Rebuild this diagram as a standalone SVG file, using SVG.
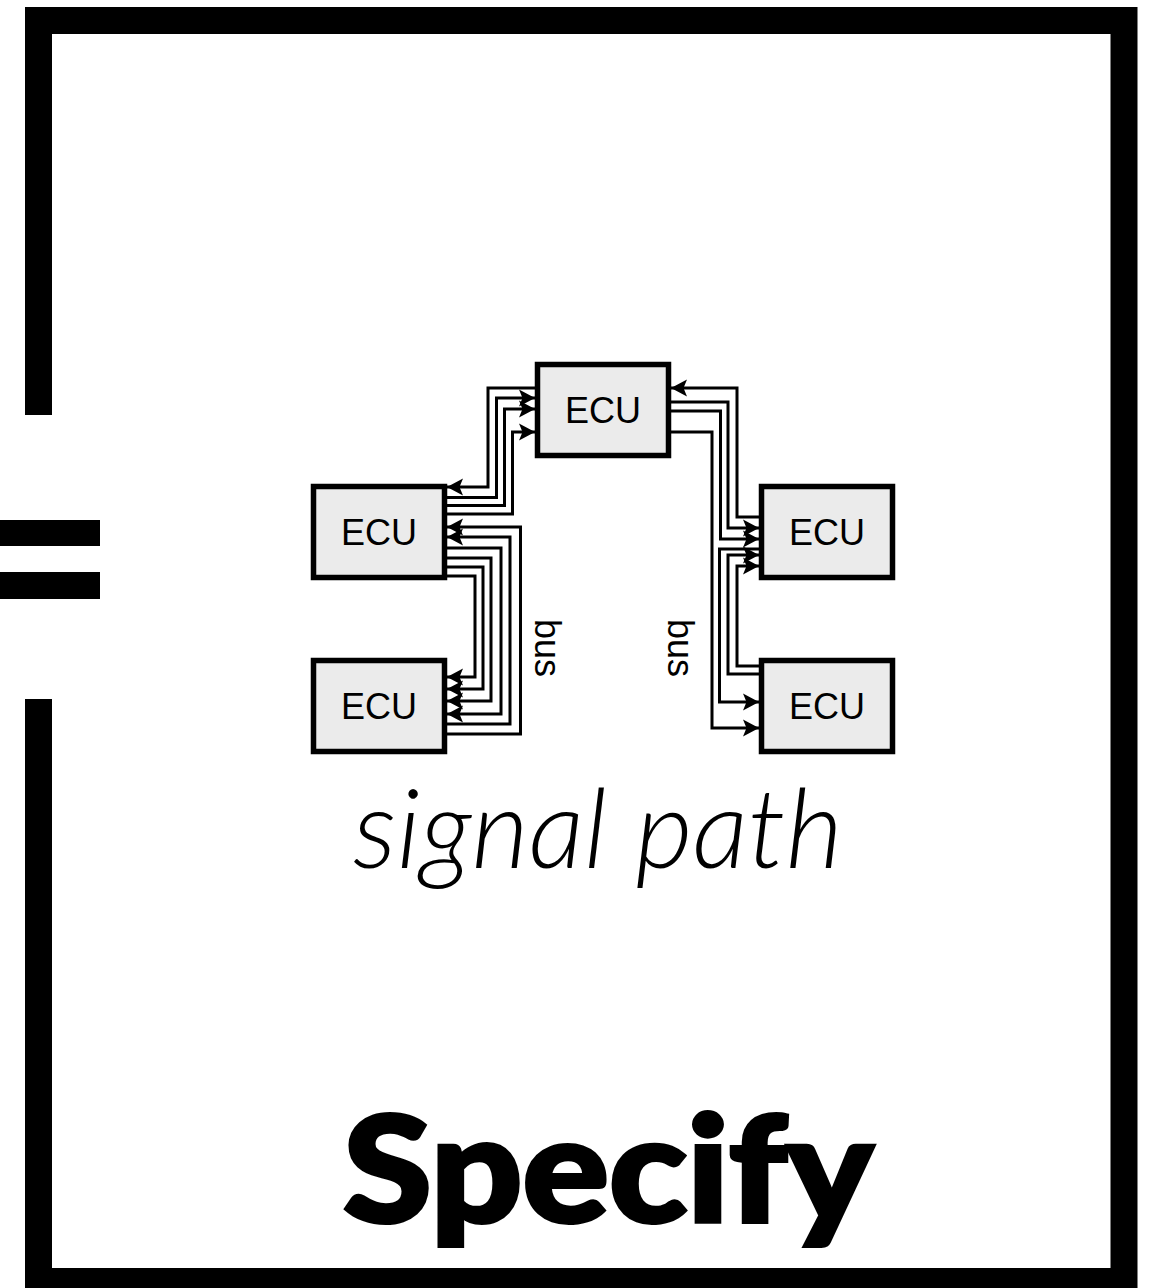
<svg xmlns="http://www.w3.org/2000/svg" width="1152" height="1288" viewBox="0 0 1152 1288">
<style>
.box{fill:#ebebeb;stroke:#000;stroke-width:5.500}
.lbl{font:36px "Liberation Sans",Arial,sans-serif;text-anchor:middle;fill:#000}
.w{fill:none;stroke:#000;stroke-width:3}
.a{marker-end:url(#ah)}
.frame{fill:none;stroke:#000;stroke-width:27}
</style>
<defs><marker id="ah" markerUnits="userSpaceOnUse" markerWidth="18" markerHeight="18" refX="16" refY="9" orient="auto" viewBox="0 0 18 18"><path d="M0,0.500 L16,9 L0,17.500 L3.500,9 Z" fill="#000"/></marker></defs>
<rect width="1152" height="1288" fill="#fff"/>
<g id="frame">
<path class="frame" d="M38.500,415V20.500H1124V1281.500H38.500V699"/>
<rect x="0" y="520" width="100" height="26"/>
<rect x="0" y="572" width="100" height="27"/>
</g>
<g id="connectors">
<path class="w a" d="M535,388H488V487H447"/>
<path class="w a" d="M447,497.500H496.500V398H535"/>
<path class="w a" d="M447,505.500H504.500V409H535"/>
<path class="w a" d="M447,514H512.500V432H535"/>
<path class="w a" d="M447,734H520.500V527H447"/>
<path class="w a" d="M447,724H510V537H447"/>
<path class="w a" d="M447,548H501V714H447"/>
<path class="w a" d="M447,558H491V701H447"/>
<path class="w a" d="M447,567H483V689H447"/>
<path class="w a" d="M447,576H475V677H447"/>
<path class="w a" d="M759,517H737V388H671"/>
<path class="w a" d="M671,402H728V528H759"/>
<path class="w a" d="M671,411H720.500V539H759"/>
<path class="w a" d="M671,432H712V728H759"/>
<path class="w a" d="M759,549H719.500V702H759"/>
<path class="w a" d="M759,674H728V555H759"/>
<path class="w a" d="M759,666H737V566H759"/>
</g>
<g id="ecu-top"><rect class="box" x="537.500" y="364.500" width="131" height="91"/><text class="lbl" x="603" y="423">ECU</text></g>
<g id="ecu-left-upper"><rect class="box" x="313.500" y="486.500" width="131" height="91"/><text class="lbl" x="379" y="545">ECU</text></g>
<g id="ecu-left-lower"><rect class="box" x="313.500" y="660.500" width="131" height="91"/><text class="lbl" x="379" y="719">ECU</text></g>
<g id="ecu-right-upper"><rect class="box" x="761.500" y="486.500" width="131" height="91"/><text class="lbl" x="827" y="545">ECU</text></g>
<g id="ecu-right-lower"><rect class="box" x="761.500" y="660.500" width="131" height="91"/><text class="lbl" x="827" y="719">ECU</text></g>
<g id="labels">
<text class="lbl" transform="translate(535,648) rotate(90)">bus</text>
<text class="lbl" transform="translate(668,648) rotate(90)">bus</text>
<text x="598" y="868" text-anchor="middle" font-family="Lato,sans-serif" font-style="italic" font-weight="300" font-size="111">signal path</text>
<text x="608" y="1222" text-anchor="middle" font-family="Lato,sans-serif" font-weight="900" font-size="146" textLength="530" lengthAdjust="spacingAndGlyphs" stroke="#000" stroke-width="4">Specify</text>
</g>
</svg>
